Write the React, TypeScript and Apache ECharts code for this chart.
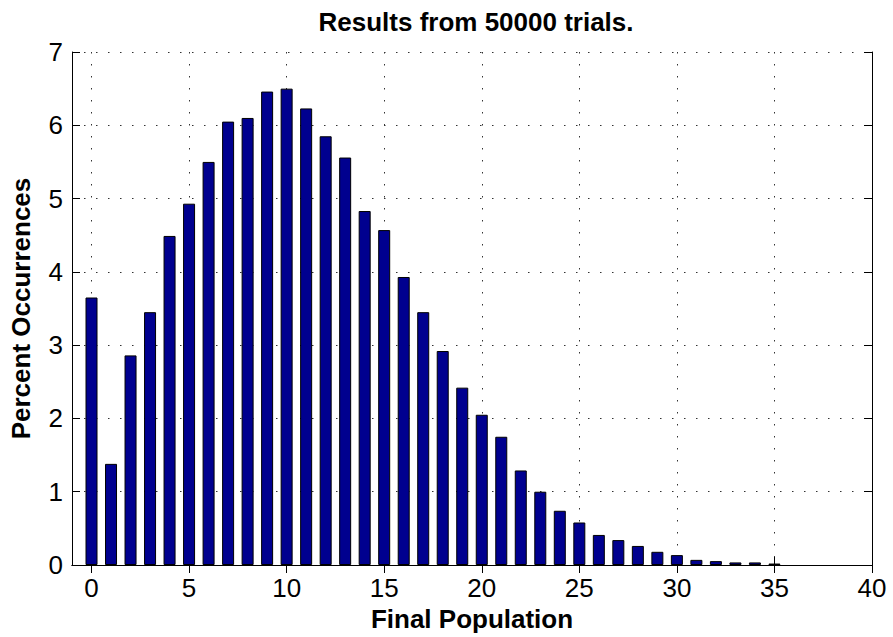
import React, { useEffect, useRef } from "react";
import * as echarts from "echarts";

// Final population values (bar positions) and their percent occurrences
const populations = [
  0, 1, 2, 3, 4, 5, 6, 7, 8, 9, 10, 11, 12, 13, 14, 15, 16, 17, 18, 19, 20,
  21, 22, 23, 24, 25, 26, 27, 28, 29, 30, 31, 32, 33, 34, 35,
];
const percentOccurrences = [
  3.65, 1.38, 2.86, 3.45, 4.49, 4.93, 5.5, 6.05, 6.1, 6.46, 6.5, 6.23, 5.85,
  5.56, 4.83, 4.57, 3.93, 3.45, 2.92, 2.42, 2.05, 1.75, 1.29, 1.0, 0.74, 0.58,
  0.41, 0.34, 0.26, 0.18, 0.135, 0.07, 0.053, 0.035, 0.035, 0.02,
];
// Axis extents and tick labels
const xCategories = [
  "-1", "0", "1", "2", "3", "4", "5", "6", "7", "8", "9", "10", "11", "12",
  "13", "14", "15", "16", "17", "18", "19", "20", "21", "22", "23", "24", "25",
  "26", "27", "28", "29", "30", "31", "32", "33", "34", "35", "36", "37", "38",
  "39", "40",
];
const xTickLabels = ["0", "5", "10", "15", "20", "25", "30", "35", "40"];
const yMin = 0;
const yMax = 7;
const yInterval = 1;

const titleText = "Results from 50000 trials.";
const xName = "Final Population";
const yName = "Percent Occurrences";

const FONT = "'Liberation Sans', Arial, Helvetica, sans-serif";
const FS = 26;

export default function App() {
  const ref = useRef<HTMLDivElement>(null);

  useEffect(() => {
    if (!ref.current) return;
    const chart = echarts.init(ref.current, undefined, { renderer: "svg" });

    const valueByCat: Record<string, number> = {};
    populations.forEach((p, i) => {
      valueByCat[String(p)] = percentOccurrences[i];
    });
    const seriesData = xCategories.map((c) =>
      valueByCat[c] !== undefined ? valueByCat[c] : null
    );

    const isTick = (_idx: number, value: string) => xTickLabels.includes(value);
    const dotted = { type: [1.5, 10.5] as any, color: "#333", width: 1 };

    chart.setOption({
      animation: false,
      backgroundColor: "#fff",
      textStyle: { fontFamily: FONT },
      graphic: [
        {
          type: "text",
          x: 476,
          y: 22,
          style: {
            text: titleText,
            font: `bold ${FS}px ${FONT}`,
            fill: "#000",
            align: "center",
            verticalAlign: "middle",
          },
        },
      ],
      grid: { left: 72, top: 52, width: 800, height: 513 },
      xAxis: [
        {
          type: "category",
          data: xCategories,
          boundaryGap: false,
          position: "bottom",
          name: xName,
          nameLocation: "middle",
          nameGap: 35,
          nameTextStyle: {
            fontSize: FS,
            fontWeight: "bold",
            color: "#000",
            fontFamily: FONT,
          },
          axisLine: { show: true, lineStyle: { color: "#000", width: 1 } },
          axisTick: {
            show: true,
            inside: true,
            length: 8,
            interval: isTick,
            lineStyle: { color: "#000" },
          },
          axisLabel: {
            show: true,
            interval: isTick,
            margin: 10,
            fontSize: FS,
            color: "#000",
            fontFamily: FONT,
          },
          splitLine: { show: true, interval: isTick, lineStyle: dotted },
        },
        {
          type: "category",
          data: xCategories,
          boundaryGap: false,
          position: "top",
          axisLine: { show: true, lineStyle: { color: "#000", width: 1 } },
          axisTick: {
            show: true,
            inside: true,
            length: 8,
            interval: isTick,
            lineStyle: { color: "#000" },
          },
          axisLabel: { show: false },
          splitLine: { show: false },
        },
      ],
      yAxis: [
        {
          type: "value",
          min: yMin,
          max: yMax,
          interval: yInterval,
          position: "left",
          name: yName,
          nameLocation: "middle",
          nameGap: 38,
          nameTextStyle: {
            fontSize: FS,
            fontWeight: "bold",
            color: "#000",
            fontFamily: FONT,
          },
          axisLine: { show: true, lineStyle: { color: "#000", width: 1 } },
          axisTick: {
            show: true,
            inside: true,
            length: 8,
            lineStyle: { color: "#000" },
          },
          axisLabel: {
            margin: 9,
            fontSize: FS,
            color: "#000",
            fontFamily: FONT,
          },
          splitLine: { show: true, lineStyle: dotted },
        },
        {
          type: "value",
          min: yMin,
          max: yMax,
          interval: yInterval,
          position: "right",
          axisLine: { show: true, lineStyle: { color: "#000", width: 1 } },
          axisTick: {
            show: true,
            inside: true,
            length: 8,
            lineStyle: { color: "#000" },
          },
          axisLabel: { show: false },
          splitLine: { show: false },
        },
      ],
      series: [
        {
          type: "bar",
          xAxisIndex: 0,
          yAxisIndex: 0,
          data: seriesData,
          barWidth: 12,
          itemStyle: {
            color: "#00008F",
            borderColor: "#000",
            borderWidth: 1,
          },
          z: 3,
        },
      ],
    });

    return () => chart.dispose();
  }, []);

  return (
    <div
      ref={ref}
      style={{ position: "fixed", left: 0, top: 0, width: 893, height: 637 }}
    />
  );
}
